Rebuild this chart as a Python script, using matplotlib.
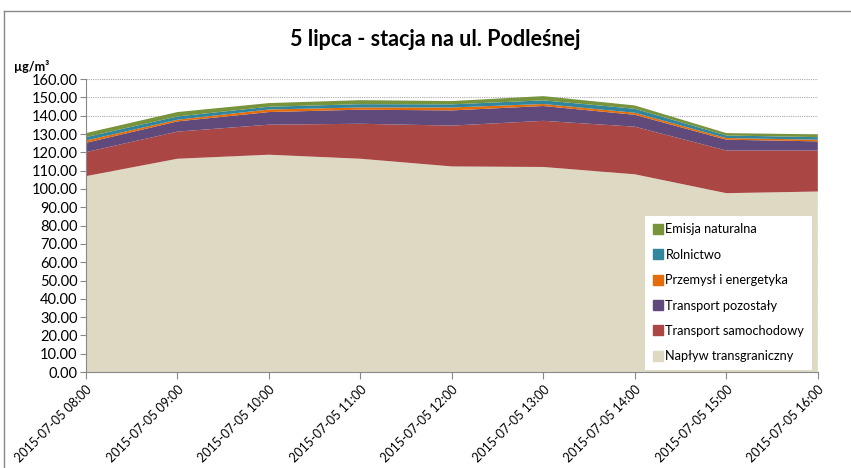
import numpy as np
import matplotlib.pyplot as plt
from matplotlib.lines import Line2D

hours = ["2015-07-05 08:00", "2015-07-05 09:00", "2015-07-05 10:00",
         "2015-07-05 11:00", "2015-07-05 12:00", "2015-07-05 13:00",
         "2015-07-05 14:00", "2015-07-05 15:00", "2015-07-05 16:00"]

naplyw = [107.0, 116.5, 118.7, 116.5, 112.3, 112.0, 108.0, 97.7, 98.6]
transport_sam = [13.1, 14.8, 16.4, 19.1, 22.3, 25.2, 26.0, 23.3, 22.4]
transport_poz = [5.1, 5.6, 6.9, 7.7, 8.3, 8.1, 6.5, 5.9, 5.0]
przemysl = [1.3, 0.9, 1.4, 1.2, 1.6, 1.1, 1.1, 0.9, 0.9]
rolnictwo = [1.8, 1.8, 1.5, 1.8, 1.7, 2.0, 2.2, 1.4, 1.4]
emisja = [2.2, 2.4, 2.0, 2.2, 1.8, 2.3, 1.8, 1.3, 1.5]

labels = ["Napływ transgraniczny", "Transport samochodowy", "Transport pozostały",
          "Przemysł i energetyka", "Rolnictwo", "Emisja naturalna"]
colors = ["#DDD9C3", "#AA4644", "#604A7B", "#E46C0A", "#31859C", "#77933C"]

plt.rcParams['font.family'] = ['Lato', 'DejaVu Sans']

fig = plt.figure(figsize=(8.51, 4.68), dpi=100)
ax = fig.add_axes([0.101, 0.205, 0.86, 0.626])

x = np.arange(len(hours))
ax.stackplot(x, naplyw, transport_sam, transport_poz, przemysl, rolnictwo, emisja,
             colors=colors, linewidth=0, zorder=2)

ax.set_xlim(0, len(hours) - 1)
ax.set_ylim(0, 160)
ax.set_yticks(np.arange(0, 161, 10))
ax.set_yticklabels([f"{v:.2f}" for v in np.arange(0, 161, 10)], fontsize=10.5)
ax.set_xticks(x)
ax.set_xticklabels(hours, rotation=45, ha="right", rotation_mode="anchor", fontsize=9)
ax.tick_params(axis="x", length=5, color="#888888", pad=3)
ax.tick_params(axis="y", length=4, color="#888888", pad=2)

ax.grid(axis="y", color="#AAAAAA", linestyle=(0, (1, 1)), linewidth=0.8, zorder=1)
for side in ["top", "right"]:
    ax.spines[side].set_visible(False)
for side in ["left", "bottom"]:
    ax.spines[side].set_color("#888888")

fig.text(0.511, 0.915, "5 lipca - stacja na ul. Podleśnej", ha="center", va="center",
         fontsize=15.5, fontweight="bold")
fig.text(0.016, 0.857, "µg/m³", ha="left", va="center", fontsize=9, fontweight="bold")

handles = [Line2D([], [], marker="s", linestyle="none", markersize=7,
                  markerfacecolor=c, markeredgecolor=c) for c in colors]
leg = ax.legend(handles[::-1], labels[::-1], loc="lower right",
                bbox_to_anchor=(0.992, 0.007), fontsize=9.2, frameon=True,
                fancybox=False, edgecolor="white", framealpha=1,
                labelspacing=1.05, handletextpad=0.1, borderpad=0.6,
                handlelength=0.9, borderaxespad=0.0)
leg.get_frame().set_linewidth(0)

# chart frame
fig.add_artist(Line2D([4 / 851, 4 / 851], [0, 1 - 11 / 468], color="#888888", lw=1))
fig.add_artist(Line2D([4 / 851, 1], [1 - 11 / 468, 1 - 11 / 468], color="#888888", lw=1))

fig.savefig("out.png", dpi=100)
